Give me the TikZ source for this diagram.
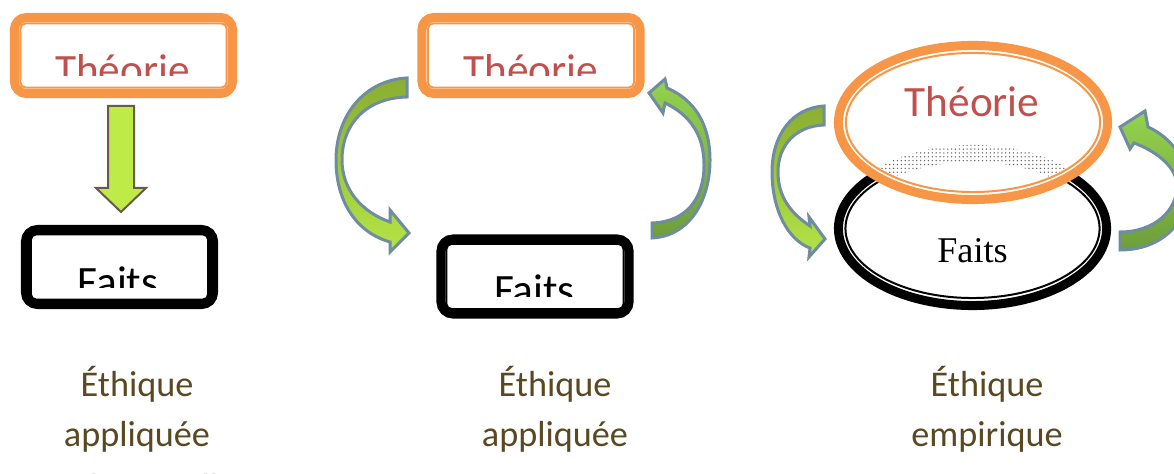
\documentclass[tikz,border=0pt]{standalone}
\usepackage{fontspec}
\setmainfont{Carlito}
\newfontfamily\timesfont{Liberation Serif}
\usepackage{tikz}
\usepackage{xcolor}
\usetikzlibrary{calc}
\usetikzlibrary{shapes.geometric}
\usetikzlibrary{patterns.meta}

\definecolor{thorange}{HTML}{F79646}
\definecolor{thred}{HTML}{C0504D}
\definecolor{capbrown}{HTML}{5A4822}
\definecolor{arrowedge}{HTML}{6F8CA0}
\definecolor{darkgreen}{HTML}{8AAE32}
\definecolor{limegreen}{HTML}{B4E446}
\definecolor{leafgreen}{HTML}{94D24E}
\definecolor{mossgreen}{HTML}{6E9E3A}
\definecolor{downgreen}{HTML}{BEEB48}
\definecolor{downedge}{HTML}{6B5A48}

\tikzset{
	theoryframe/.style={draw=thorange, line width=0.09cm, rounded corners=0.12cm, minimum width=2.18cm, minimum height=0.76cm, inner sep=0pt},
	theoryinner/.style={draw=thorange, line width=0.02cm, rounded corners=0.05cm, minimum width=2.06cm, minimum height=0.64cm, inner sep=0pt},
	factframe/.style={draw=black, line width=0.09cm, rounded corners=0.12cm, minimum width=1.88cm, minimum height=0.75cm, inner sep=0pt},
	factinner/.style={draw=black, line width=0.02cm, rounded corners=0.05cm, minimum width=1.77cm, minimum height=0.65cm, inner sep=0pt},
	theorytext/.style={text=thred, font=\fontsize{12.3}{14}\selectfont, inner sep=0pt, anchor=base},
	facttext/.style={text=black, font=\fontsize{12.3}{14}\selectfont, inner sep=0pt, anchor=base},
	captext/.style={text=capbrown, font=\fontsize{10.3}{12}\selectfont, inner sep=0pt, anchor=base},
	bendarrow/.style={draw=arrowedge, line width=0.03cm, line join=miter},
}

\begin{document}
\begin{tikzpicture}[x=0.01cm, y=-0.01cm]
		\useasboundingbox (0,0) rectangle (1174,474);
		\clip (0,0) rectangle (1174,474);

		\node[theoryframe] (theo1) at (123.5,55.5) {};
		\node[theoryinner] (theo1in) at (theo1) {};
		\node[factframe] (fait1) at (119.5,267) {};
		\node[factinner] (fait1in) at (fait1) {};
		\begin{scope}
			\clip (0,0) rectangle (400,75.5);
			\node[theorytext] (theo1txt) at (122.5,85) {Théorie};
		\end{scope}
		\begin{scope}
			\clip (0,200) rectangle (400,288);
			\node[facttext] (fait1txt) at (118,297) {Faits};
		\end{scope}
		\filldraw[fill=downgreen, draw=downedge, line width=0.02cm] (108,106) -- (134,106) -- (134,188) -- (146,188) -- (121,212) -- (96,188) -- (108,188) -- cycle;

		\node[theoryframe] (theo2) at (531,55.5) {};
		\node[theoryinner] (theo2in) at (theo2) {};
		\node[factframe] (fait2) at (535,276.5) {};
		\node[factinner] (fait2in) at (fait2) {};
		\begin{scope}
			\clip (400,0) rectangle (700,75.5);
			\node[theorytext] (theo2txt) at (531,85) {Théorie};
		\end{scope}
		\begin{scope}
			\clip (400,200) rectangle (700,297);
			\node[facttext] (fait2txt) at (534.5,305) {Faits};
		\end{scope}
		\draw[bendarrow, top color=darkgreen, bottom color=limegreen] (407,78) .. controls (365,80) and (336,115) .. (336,160) .. controls (336,200) and (355,232) .. (390,242) -- (390,252) -- (409,233) -- (390,210) -- (390,222) .. controls (362,212) and (342,190) .. (342,160) .. controls (342,125) and (365,98) .. (407,97) -- cycle;
		\draw[bendarrow, top color=leafgreen, bottom color=mossgreen] (652,238) .. controls (690,236) and (710,200) .. (710,160) .. controls (710,125) and (695,100) .. (667,88) -- (665,79) -- (649,93) -- (663,113) -- (665,103) .. controls (690,115) and (704,135) .. (704,165) .. controls (704,200) and (685,222) .. (652,223) -- cycle;

		\node[ellipse, draw=black, line width=0.09cm, minimum width=2.68cm, minimum height=1.54cm, inner sep=0pt] (fait3) at (972.5,228.5) {};
		\node[ellipse, draw=black, line width=0.02cm, minimum width=2.54cm, minimum height=1.39cm, inner sep=0pt] (fait3in) at (fait3) {};
		\node[ellipse, draw=thorange, fill=white, line width=0.09cm, minimum width=2.69cm, minimum height=1.54cm, inner sep=0pt] (theo3) at (973,122.5) {};
		\begin{scope}
			\clip (973,122.5) ellipse [x radius=1.26cm, y radius=0.685cm];
			\fill[even odd rule, pattern={Dots[distance=1.1pt, radius=0.22pt]}, pattern color=black!60] (972.5,228.5) ellipse [x radius=1.38cm, y radius=0.835cm] (972.5,228.5) ellipse [x radius=1.22cm, y radius=0.665cm];
		\end{scope}
		\node[ellipse, draw=thorange, line width=0.02cm, minimum width=2.54cm, minimum height=1.39cm, inner sep=0pt] (theo3in) at (theo3) {};
		\node[theorytext] (theo3txt) at (972,117) {Théorie};
		\node[text=black, font=\timesfont\fontsize{10.3}{12}\selectfont, inner sep=0pt, anchor=base] (fait3txt) at (972.5,263) {Faits};
		\draw[bendarrow, top color=darkgreen, bottom color=limegreen] (824,106) .. controls (792,108) and (772,135) .. (772,172) .. controls (772,210) and (788,240) .. (810,248) -- (809,257) -- (825,239) -- (809,217) -- (810,226) .. controls (792,214) and (778,198) .. (778,172) .. controls (778,145) and (796,126) .. (824,125) -- cycle;
		\draw[bendarrow, top color=leafgreen, bottom color=mossgreen] (1120,250) .. controls (1162,250) and (1188,222) .. (1188,190) .. controls (1188,160) and (1172,138) .. (1148,127) -- (1145,111) -- (1120,127) -- (1130,149) -- (1134,143) .. controls (1158,152) and (1177,168) .. (1177,186) .. controls (1177,210) and (1155,232) .. (1120,232) -- cycle;

		\node[captext] (cap1a) at (137,397) {Éthique};
		\node[captext] (cap1b) at (137,447) {appliquée};
		\node[captext] (cap1c) at (137,500) {traditionnelle};
		\node[captext] (cap2a) at (555,397) {Éthique};
		\node[captext] (cap2b) at (555,447) {appliquée};
		\node[captext] (cap2c) at (555,500) {critique};
		\node[captext] (cap3a) at (987,397) {Éthique};
		\node[captext] (cap3b) at (987,447) {empirique};
		\node[captext] (cap3c) at (987,500) {intégrée};
		\end{tikzpicture}
\end{document}
